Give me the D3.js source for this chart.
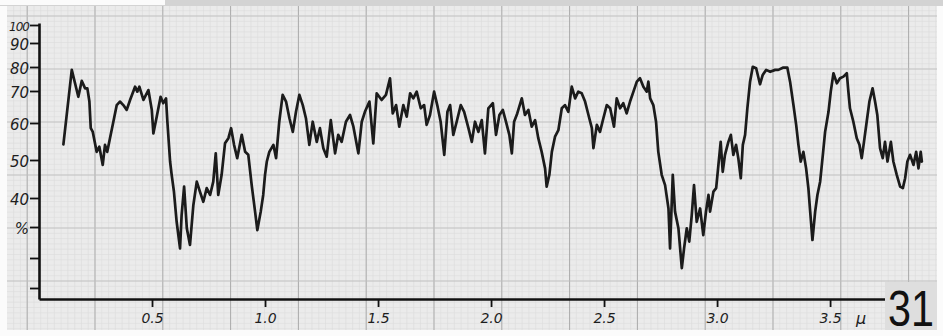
<!DOCTYPE html>
<html>
<head>
<meta charset="utf-8">
<script src="https://cdn.jsdelivr.net/npm/d3@7"></script>
<style>
  body { margin: 0; background: #fff; }
  svg { display: block; }
  .hand { font-family: "DejaVu Sans", sans-serif; font-style: italic; fill: #1e1e1e; }
</style>
</head>
<body>
<div id="chart"></div>
<script>
// wavelength in microns
const wavelength = [0.108,0.145,0.174,0.189,0.204,0.214,0.223,0.229,0.238,0.255,0.267,0.282,0.292,0.302,0.314,0.329,0.344,0.358,0.373,0.388,0.403,0.425,0.435,0.444,0.462,0.484,0.499,0.506,0.521,0.538,0.550,0.562,0.568,0.580,0.587,0.597,0.609,0.624,0.631,0.642,0.654,0.668,0.683,0.698,0.712,0.727,0.742,0.757,0.771,0.782,0.793,0.808,0.823,0.838,0.850,0.863,0.877,0.897,0.912,0.926,0.941,0.956,0.966,0.981,0.992,1.000,1.008,1.019,
  1.037,1.049,1.063,1.078,1.093,1.108,1.123,1.137,1.152,1.167,1.181,1.196,1.211,1.229,1.243,1.258,1.273,1.291,1.310,1.324,1.339,1.358,1.376,1.391,1.413,1.428,1.442,1.462,1.479,1.494,1.516,1.535,1.553,1.565,1.580,1.594,1.612,1.627,1.642,1.656,1.671,1.689,1.704,1.715,1.730,1.748,1.762,1.777,1.793,1.807,1.819,1.833,1.848,1.866,1.881,1.900,1.915,1.929,1.944,1.959,1.973,1.988,2.008,
  2.022,2.037,2.052,2.066,2.081,2.092,2.102,2.116,2.136,2.150,2.165,2.180,2.195,2.209,2.224,2.239,2.246,2.258,2.269,2.283,2.298,2.313,2.327,2.342,2.357,2.372,2.386,2.401,2.416,2.431,2.446,2.453,2.468,2.482,2.497,2.512,2.527,2.544,2.556,2.571,2.585,2.600,2.615,2.630,2.645,2.659,2.674,2.689,2.696,2.704,2.718,2.730,2.740,2.755,2.770,2.785,2.792,2.804,2.814,2.829,2.844,2.854,2.866,2.877,2.888,2.898,2.910,2.925,2.939,2.951,2.962,
  2.969,2.984,2.996,3.006,3.016,3.025,3.035,3.050,3.061,3.072,3.084,3.094,3.105,3.114,3.124,3.134,3.146,3.158,3.173,3.190,3.202,3.217,3.235,3.257,3.271,3.291,3.311,3.323,3.338,3.350,3.360,3.370,3.382,3.394,3.404,3.412,3.422,3.434,3.444,3.456,3.468,3.478,3.493,3.503,3.515,3.530,3.544,3.559,3.574,3.581,3.588,3.603,3.618,3.630,3.640,3.650,3.662,3.674,3.688,3.699,3.709,3.721,3.733,3.743,3.754,3.769,3.780,3.795,3.810,3.822,3.832,3.842,3.854,3.869,3.881,3.891,3.901,3.906];

// percent, same order
const percent = [54.2,78.8,68.2,74.2,71.1,71.1,66.7,58.6,57.6,52.2,53.6,48.7,54.1,52.2,55.9,60.4,65.6,66.7,65.6,64.1,67.2,71.8,69.8,71.8,67.2,70.4,64.1,57.2,62.0,68.2,66.2,67.7,60.4,49.6,46.1,41.7,31.8,23.1,34.1,43.0,29.6,24.2,37.6,44.3,41.7,38.7,42.6,40.8,44.3,51.8,40.8,46.1,54.5,55.9,58.6,54.1,50.5,56.8,52.2,51.4,43.4,35.3,29.0,35.3,40.8,46.1,49.6,52.2,
  54.1,50.5,60.4,68.8,66.7,61.5,57.6,63.5,68.8,65.6,61.5,54.1,60.4,54.9,58.6,53.2,50.9,60.9,51.8,56.8,54.9,60.4,62.5,59.0,51.8,60.4,63.5,66.7,54.5,69.3,67.2,68.8,75.3,63.0,65.6,59.0,65.6,62.0,69.3,67.7,69.8,64.6,65.6,59.5,62.5,69.8,65.6,60.4,51.4,63.5,65.6,56.8,60.4,65.6,63.5,58.6,54.9,60.4,57.6,60.9,51.8,64.6,66.2,
  56.8,62.5,64.1,60.4,56.8,51.8,60.4,63.0,67.7,62.5,64.1,59.0,60.9,55.9,52.2,47.8,43.0,46.1,52.2,56.3,58.1,64.6,65.6,63.5,71.8,67.7,69.8,69.3,66.7,62.5,58.6,53.2,59.5,57.6,61.5,65.6,64.6,59.0,67.7,64.6,66.2,63.0,66.7,69.8,73.9,75.3,71.8,69.8,73.9,67.7,65.6,60.4,52.2,46.1,43.4,36.4,23.1,46.1,35.3,29.6,16.6,23.1,29.6,25.3,34.1,43.4,31.8,36.4,27.4,35.3,40.8,
  35.3,41.7,42.6,48.7,54.9,46.9,51.4,54.9,56.8,51.4,54.1,50.5,45.2,54.1,56.8,64.6,73.9,80.1,79.5,72.8,76.7,78.8,78.0,78.8,78.8,79.7,79.7,73.9,65.6,59.5,54.1,49.6,52.2,47.8,42.6,35.3,25.8,35.3,40.8,44.3,51.4,57.6,63.5,69.8,77.4,73.2,75.3,76.0,77.4,69.8,64.6,60.4,55.9,54.1,50.5,54.9,60.4,66.7,71.1,66.7,62.5,53.2,50.5,54.9,49.6,54.9,49.6,46.1,43.0,42.6,45.2,49.6,51.4,48.7,52.2,47.8,52.2,49.6];

const xTicks = [0.5, 1.0, 1.5, 2.0, 2.5, 3.0, 3.5];
const xTickLabels = ["0.5", "1.0", "1.5", "2.0", "2.5", "3.0", "3.5"];
const yTicks = [100, 90, 80, 70, 60, 50, 40, 30, 20, 10];
const yTickLabels = ["100", "90", "80", "70", "60", "50", "40", "%", "", ""];
const unitLabel = "\u00b5";
const plateNumber = "31";

const W = 943, H = 336;

const svg = d3.select("#chart").append("svg")
  .attr("width", W)
  .attr("height", H);

// paper
svg.append("rect").attr("x", 0).attr("y", 0).attr("width", W).attr("height", H).attr("fill", "#fbfbfb");
svg.append("rect").attr("x", 7).attr("y", 0).attr("width", 930).attr("height", 330).attr("fill", "#ebebeb");
svg.append("rect").attr("x", 0).attr("y", 0).attr("width", W).attr("height", 6).attr("fill", "#d3d3d3");
svg.append("rect").attr("x", 0).attr("y", 0).attr("width", 165).attr("height", 5).attr("fill", "#fbfbfb");

// graph paper grid
const grid = svg.append("g");
const gx0 = 27.2, gdx = 67.8, gy0 = 16, gdy = 53;
d3.range(gx0 - gdx, 940, gdx / 10).forEach(v => {
  if (v < 7 || v > 937) return;
  grid.append("line").attr("x1", v).attr("x2", v).attr("y1", 6).attr("y2", 330)
    .attr("stroke", "#dcdcdc").attr("stroke-width", 0.6);
});
d3.range(gy0 - gdy, 330, gdy / 10).forEach(v => {
  if (v < 6) return;
  grid.append("line").attr("x1", 7).attr("x2", 937).attr("y1", v).attr("y2", v)
    .attr("stroke", "#dcdcdc").attr("stroke-width", 0.6);
});
d3.range(gx0, 940, gdx).forEach(v => {
  grid.append("line").attr("x1", v).attr("x2", v).attr("y1", 6).attr("y2", 330)
    .attr("stroke", "#ababab").attr("stroke-width", 1);
});
d3.range(gy0, 330, gdy).forEach(v => {
  grid.append("line").attr("x1", 7).attr("x2", 937).attr("y1", v).attr("y2", v)
    .attr("stroke", "#c0c0c0").attr("stroke-width", 0.9);
});

// scales (the hand-drawn % axis is uneven, so piecewise)
const x = d3.scaleLinear().domain([0, 3.743]).range([39, 885]);
const y = d3.scaleLinear()
  .domain([101.1, 100, 90, 80, 70, 60, 50, 40, 30, 20, 10, 6.3])
  .range([23, 25, 43, 67, 91, 123, 160, 198, 227, 258, 288, 299]);

// trace
const line = d3.line()
  .x((d, i) => x(wavelength[i]))
  .y((d, i) => y(percent[i]));

svg.append("path")
  .datum(percent)
  .attr("d", line)
  .attr("fill", "none")
  .attr("stroke", "#1b1b1b")
  .attr("stroke-width", 2.7)
  .attr("stroke-linejoin", "round")
  .attr("stroke-linecap", "round");

// axes
const xAxis = svg.append("g")
  .attr("transform", "translate(0," + y(6.3) + ")")
  .call(d3.axisBottom(x).tickValues(xTicks).tickSize(8).tickSizeOuter(0).tickPadding(6)
    .tickFormat((d, i) => xTickLabels[i]));
xAxis.select(".domain").attr("stroke", "#111").attr("stroke-width", 2.6);
xAxis.selectAll(".tick line").attr("stroke", "#111").attr("stroke-width", 1.8);
xAxis.selectAll(".tick text").attr("class", "hand").attr("font-size", 14);

svg.append("text")
  .attr("class", "hand")
  .attr("x", x(3.5) + 26)
  .attr("y", y(6.3) + 25)
  .attr("font-size", 16)
  .text(unitLabel);

const yAxis = svg.append("g")
  .attr("transform", "translate(" + x(0) + ",0)")
  .call(d3.axisLeft(y).tickValues(yTicks).tickSize(9).tickSizeOuter(0).tickPadding(1)
    .tickFormat((d, i) => yTickLabels[i]));
yAxis.select(".domain").attr("stroke", "#111").attr("stroke-width", 2.6);
yAxis.selectAll(".tick line").attr("stroke", "#111").attr("stroke-width", 1.8);
yAxis.selectAll(".tick text").attr("class", "hand").attr("font-size", 15)
  .attr("dy", "0.45em")
  .filter(d => d === 100).attr("font-size", 12).attr("letter-spacing", -1);

// plate number
svg.append("rect").attr("x", 885).attr("y", 282).attr("width", 52).attr("height", 48).attr("fill", "#dedede");
svg.append("text")
  .attr("x", 888)
  .attr("y", 326)
  .attr("font-family", "Liberation Sans, Arial, sans-serif")
  .attr("font-size", 50)
  .attr("textLength", 46)
  .attr("lengthAdjust", "spacingAndGlyphs")
  .attr("fill", "#111")
  .text(plateNumber);
</script>
</body>
</html>
